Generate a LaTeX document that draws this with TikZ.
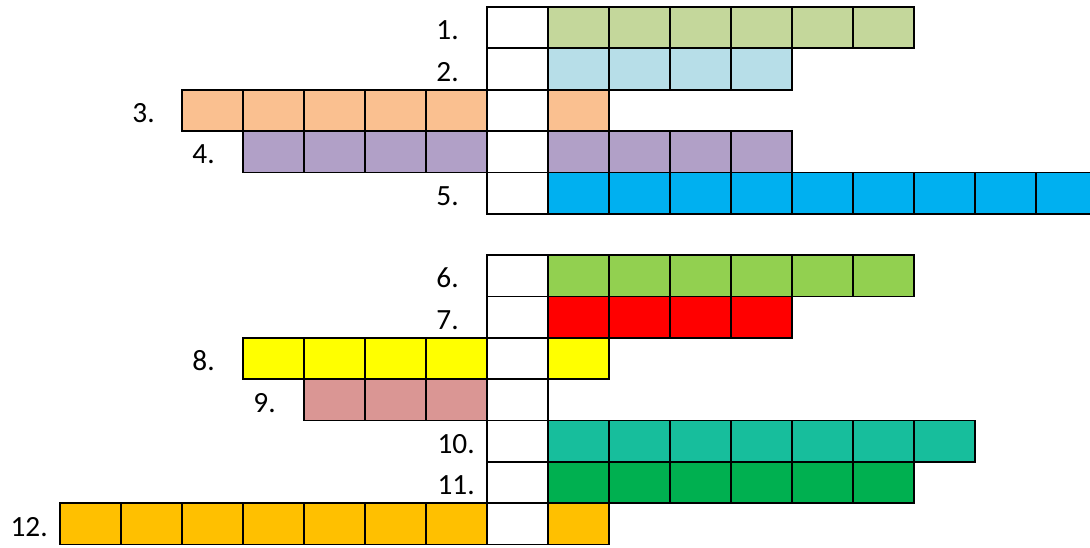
\documentclass[tikz,border=0pt]{standalone}
\usepackage{fontspec}
\setmainfont{Carlito}
\definecolor{cA}{HTML}{C4D79B}
\definecolor{cB}{HTML}{B7DEE8}
\definecolor{cC}{HTML}{FAC090}
\definecolor{cD}{HTML}{B1A0C7}
\definecolor{cE}{HTML}{00B0F0}
\definecolor{cF}{HTML}{92D050}
\definecolor{cG}{HTML}{FF0000}
\definecolor{cH}{HTML}{FFFF00}
\definecolor{cI}{HTML}{DA9694}
\definecolor{cJ}{HTML}{17BE9C}
\definecolor{cK}{HTML}{00B050}
\definecolor{cL}{HTML}{FFC000}
\newcommand\cellrow[4]{%
  \foreach \cc in {#2,...,#3} {\path[cellbox=#4] ({60+61*\cc},{7+41.35*#1}) rectangle ++(61,41.35);}}
\newcommand\rowlabel[3]{%
  \node[lbl] (l#3) at (#2,{7+41.35*(#1+1)-8.5}) {#3.};}
\begin{document}
\begin{tikzpicture}[x=0.75pt,y=-0.75pt,
  cellbox/.style={draw=black,line width=1.3pt,fill=#1},
  lbl/.style={anchor=base east,inner sep=0pt,font=\fontsize{22}{25}\selectfont}]
\clip (0,0) rectangle (1090,547);
\cellrow{0}{7}{7}{white}\cellrow{0}{8}{13}{cA}
\cellrow{1}{7}{7}{white}\cellrow{1}{8}{11}{cB}
\cellrow{2}{2}{6}{cC}\cellrow{2}{7}{7}{white}\cellrow{2}{8}{8}{cC}
\cellrow{3}{3}{6}{cD}\cellrow{3}{7}{7}{white}\cellrow{3}{8}{11}{cD}
\cellrow{4}{7}{7}{white}\cellrow{4}{8}{16}{cE}
\cellrow{6}{7}{7}{white}\cellrow{6}{8}{13}{cF}
\cellrow{7}{7}{7}{white}\cellrow{7}{8}{11}{cG}
\cellrow{8}{3}{6}{cH}\cellrow{8}{7}{7}{white}\cellrow{8}{8}{8}{cH}
\cellrow{9}{4}{6}{cI}\cellrow{9}{7}{7}{white}
\cellrow{10}{7}{7}{white}\cellrow{10}{8}{14}{cJ}
\cellrow{11}{7}{7}{white}\cellrow{11}{8}{13}{cK}
\cellrow{12}{0}{6}{cL}\cellrow{12}{7}{7}{white}\cellrow{12}{8}{8}{cL}
\rowlabel{0}{459}{1}
\rowlabel{1}{459}{2}
\rowlabel{2}{155}{3}
\rowlabel{3}{215}{4}
\rowlabel{4}{459}{5}
\rowlabel{6}{459}{6}
\rowlabel{7}{459}{7}
\rowlabel{8}{215}{8}
\rowlabel{9}{276}{9}
\rowlabel{10}{475}{10}
\rowlabel{11}{475}{11}
\rowlabel{12}{48}{12}
\end{tikzpicture}
\end{document}
